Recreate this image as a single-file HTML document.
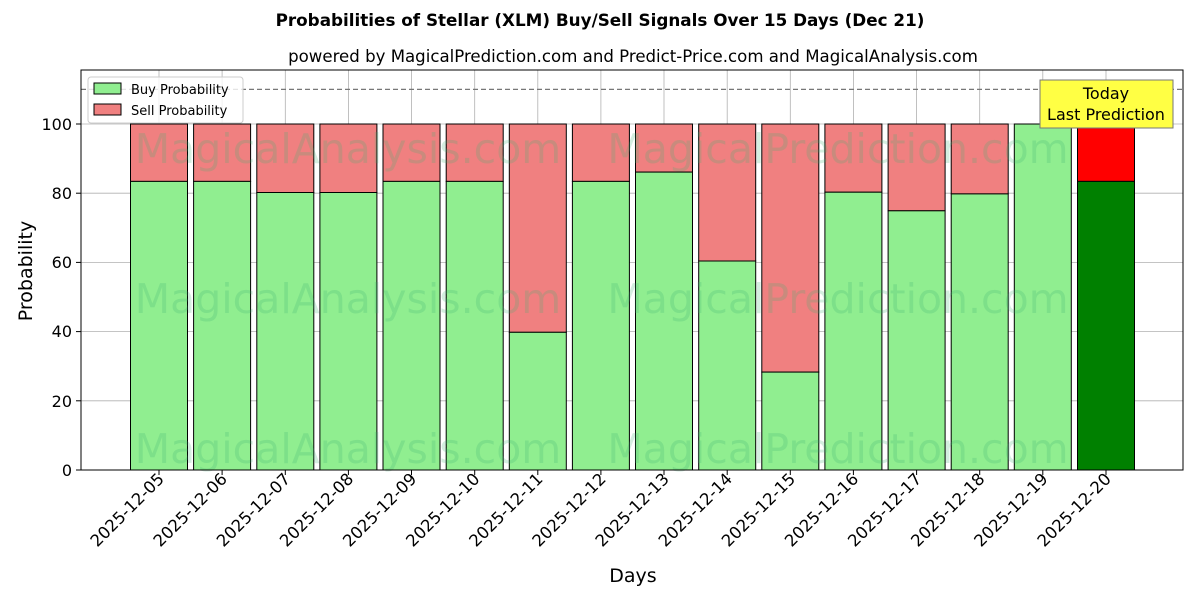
<!DOCTYPE html>
<html><head><meta charset="utf-8"><style>body{margin:0;background:#fff}svg{display:block;font-family:"DejaVu Sans","Liberation Sans",sans-serif}</style></head>
<body>
<svg width="1200" height="600" xmlns="http://www.w3.org/2000/svg">
<rect width="1200" height="600" fill="#fff"/>
<text x="600" y="26" font-size="16.8" font-weight="bold" text-anchor="middle">Probabilities of Stellar (XLM) Buy/Sell Signals Over 15 Days (Dec 21)</text>
<text x="633" y="62" font-size="16.6" text-anchor="middle">powered by MagicalPrediction.com and Predict-Price.com and MagicalAnalysis.com</text>
<g stroke="#b0b0b0" stroke-width="0.8">
<line x1="81" y1="470" x2="1183" y2="470"/><line x1="81" y1="400.8" x2="1183" y2="400.8"/><line x1="81" y1="331.6" x2="1183" y2="331.6"/><line x1="81" y1="262.4" x2="1183" y2="262.4"/><line x1="81" y1="193.2" x2="1183" y2="193.2"/><line x1="81" y1="124" x2="1183" y2="124"/>
<line x1="159" y1="70" x2="159" y2="470"/><line x1="222.1" y1="70" x2="222.1" y2="470"/><line x1="285.3" y1="70" x2="285.3" y2="470"/><line x1="348.4" y1="70" x2="348.4" y2="470"/><line x1="411.5" y1="70" x2="411.5" y2="470"/><line x1="474.7" y1="70" x2="474.7" y2="470"/><line x1="537.8" y1="70" x2="537.8" y2="470"/><line x1="600.9" y1="70" x2="600.9" y2="470"/><line x1="664" y1="70" x2="664" y2="470"/><line x1="727.2" y1="70" x2="727.2" y2="470"/><line x1="790.3" y1="70" x2="790.3" y2="470"/><line x1="853.4" y1="70" x2="853.4" y2="470"/><line x1="916.6" y1="70" x2="916.6" y2="470"/><line x1="979.7" y1="70" x2="979.7" y2="470"/><line x1="1042.8" y1="70" x2="1042.8" y2="470"/><line x1="1106" y1="70" x2="1106" y2="470"/>
</g>
<g stroke="#000" stroke-width="1">
<rect x="130.5" y="124" width="57" height="57.4" fill="#f08080"/><rect x="130.5" y="181.4" width="57" height="288.6" fill="#90ee90"/>
<rect x="193.6" y="124" width="57" height="57.4" fill="#f08080"/><rect x="193.6" y="181.4" width="57" height="288.6" fill="#90ee90"/>
<rect x="256.8" y="124" width="57" height="68.5" fill="#f08080"/><rect x="256.8" y="192.5" width="57" height="277.5" fill="#90ee90"/>
<rect x="319.9" y="124" width="57" height="68.5" fill="#f08080"/><rect x="319.9" y="192.5" width="57" height="277.5" fill="#90ee90"/>
<rect x="383" y="124" width="57" height="57.4" fill="#f08080"/><rect x="383" y="181.4" width="57" height="288.6" fill="#90ee90"/>
<rect x="446.2" y="124" width="57" height="57.4" fill="#f08080"/><rect x="446.2" y="181.4" width="57" height="288.6" fill="#90ee90"/>
<rect x="509.3" y="124" width="57" height="208.3" fill="#f08080"/><rect x="509.3" y="332.3" width="57" height="137.7" fill="#90ee90"/>
<rect x="572.4" y="124" width="57" height="57.4" fill="#f08080"/><rect x="572.4" y="181.4" width="57" height="288.6" fill="#90ee90"/>
<rect x="635.5" y="124" width="57" height="48.1" fill="#f08080"/><rect x="635.5" y="172.1" width="57" height="297.9" fill="#90ee90"/>
<rect x="698.7" y="124" width="57" height="137" fill="#f08080"/><rect x="698.7" y="261" width="57" height="209" fill="#90ee90"/>
<rect x="761.8" y="124" width="57" height="248.1" fill="#f08080"/><rect x="761.8" y="372.1" width="57" height="97.9" fill="#90ee90"/>
<rect x="824.9" y="124" width="57" height="68.2" fill="#f08080"/><rect x="824.9" y="192.2" width="57" height="277.8" fill="#90ee90"/>
<rect x="888.1" y="124" width="57" height="86.8" fill="#f08080"/><rect x="888.1" y="210.8" width="57" height="259.2" fill="#90ee90"/>
<rect x="951.2" y="124" width="57" height="69.9" fill="#f08080"/><rect x="951.2" y="193.9" width="57" height="276.1" fill="#90ee90"/>
<rect x="1014.3" y="124" width="57" height="346" fill="#90ee90"/>
<rect x="1077.5" y="124" width="57" height="57.4" fill="#ff0000"/><rect x="1077.5" y="181.4" width="57" height="288.6" fill="#008000"/>
</g>
<g font-size="41" fill="#3cb371" fill-opacity="0.22" text-anchor="middle">
<text x="348" y="163">MagicalAnalysis.com</text><text x="838" y="163">MagicalPrediction.com</text>
<text x="348" y="313">MagicalAnalysis.com</text><text x="838" y="313">MagicalPrediction.com</text>
<text x="348" y="463">MagicalAnalysis.com</text><text x="838" y="463">MagicalPrediction.com</text>
</g>
<line x1="81" y1="89.4" x2="1183" y2="89.4" stroke="#777" stroke-width="1.2" stroke-dasharray="5,3"/>
<rect x="81" y="70" width="1102" height="400" fill="none" stroke="#000" stroke-width="1"/>
<g stroke="#000">
<line x1="76" y1="470" x2="81" y2="470"/><line x1="76" y1="400.8" x2="81" y2="400.8"/><line x1="76" y1="331.6" x2="81" y2="331.6"/><line x1="76" y1="262.4" x2="81" y2="262.4"/><line x1="76" y1="193.2" x2="81" y2="193.2"/><line x1="76" y1="124" x2="81" y2="124"/>
<line x1="159" y1="470" x2="159" y2="475"/><line x1="222.1" y1="470" x2="222.1" y2="475"/><line x1="285.3" y1="470" x2="285.3" y2="475"/><line x1="348.4" y1="470" x2="348.4" y2="475"/><line x1="411.5" y1="470" x2="411.5" y2="475"/><line x1="474.7" y1="470" x2="474.7" y2="475"/><line x1="537.8" y1="470" x2="537.8" y2="475"/><line x1="600.9" y1="470" x2="600.9" y2="475"/><line x1="664" y1="470" x2="664" y2="475"/><line x1="727.2" y1="470" x2="727.2" y2="475"/><line x1="790.3" y1="470" x2="790.3" y2="475"/><line x1="853.4" y1="470" x2="853.4" y2="475"/><line x1="916.6" y1="470" x2="916.6" y2="475"/><line x1="979.7" y1="470" x2="979.7" y2="475"/><line x1="1042.8" y1="470" x2="1042.8" y2="475"/><line x1="1106" y1="470" x2="1106" y2="475"/>
</g>
<g font-size="16" text-anchor="end">
<text x="72" y="476">0</text><text x="72" y="407">20</text><text x="72" y="337">40</text><text x="72" y="268">60</text><text x="72" y="199">80</text><text x="72" y="130">100</text>
</g>
<g font-size="16.5" text-anchor="end">
<text transform="translate(165 480) rotate(-45)">2025-12-05</text>
<text transform="translate(228.1 480) rotate(-45)">2025-12-06</text>
<text transform="translate(291.3 480) rotate(-45)">2025-12-07</text>
<text transform="translate(354.4 480) rotate(-45)">2025-12-08</text>
<text transform="translate(417.5 480) rotate(-45)">2025-12-09</text>
<text transform="translate(480.7 480) rotate(-45)">2025-12-10</text>
<text transform="translate(543.8 480) rotate(-45)">2025-12-11</text>
<text transform="translate(606.9 480) rotate(-45)">2025-12-12</text>
<text transform="translate(670 480) rotate(-45)">2025-12-13</text>
<text transform="translate(733.2 480) rotate(-45)">2025-12-14</text>
<text transform="translate(796.3 480) rotate(-45)">2025-12-15</text>
<text transform="translate(859.4 480) rotate(-45)">2025-12-16</text>
<text transform="translate(922.6 480) rotate(-45)">2025-12-17</text>
<text transform="translate(985.7 480) rotate(-45)">2025-12-18</text>
<text transform="translate(1048.8 480) rotate(-45)">2025-12-19</text>
<text transform="translate(1112 480) rotate(-45)">2025-12-20</text>
</g>
<text x="32" y="271" font-size="19" text-anchor="middle" transform="rotate(-90 32 271)">Probability</text>
<text x="633" y="582" font-size="19" text-anchor="middle">Days</text>
<g font-size="13">
<rect x="88" y="77" width="155" height="46" fill="#fff" fill-opacity="0.8" stroke="#ccc" rx="3"/>
<rect x="94" y="83" width="27" height="11" fill="#90ee90" stroke="#000"/>
<text x="131" y="94">Buy Probability</text>
<rect x="94" y="104" width="27" height="11" fill="#f08080" stroke="#000"/>
<text x="131" y="115">Sell Probability</text>
</g>
<rect x="1040" y="80" width="133" height="48" fill="#ffff44" stroke="#777"/>
<text x="1106" y="99" font-size="16" text-anchor="middle">Today</text>
<text x="1106" y="120" font-size="16" text-anchor="middle">Last Prediction</text>
</svg>
</body></html>
